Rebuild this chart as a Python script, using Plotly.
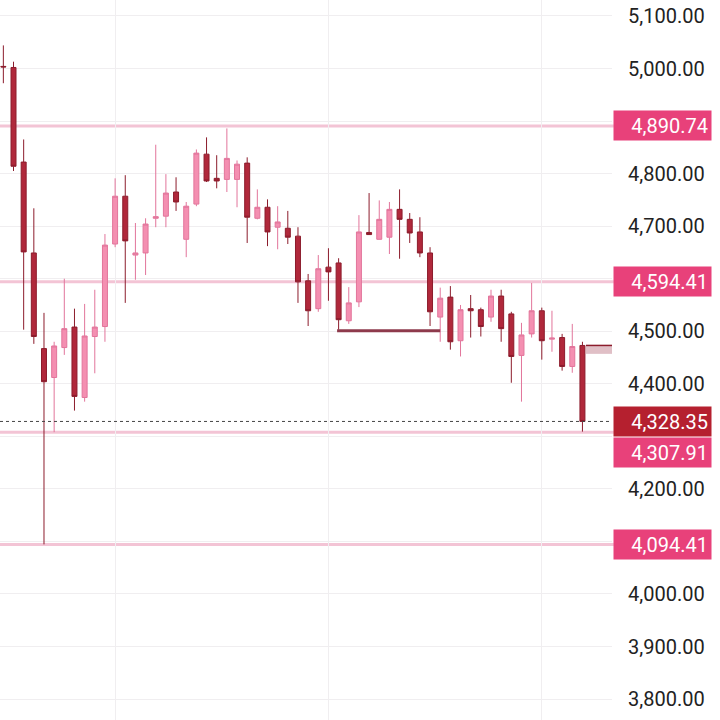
import plotly.graph_objects as go

# ---- data ----
idx = list(range(58))
opens = [5004, 5002, 4822, 4649, 4467, 4412, 4469, 4508, 4374, 4490,
         4509, 4666, 4757, 4645, 4649, 4715, 4719, 4765, 4675, 4742,
         4837, 4791, 4789, 4789, 4820, 4715, 4736, 4698, 4696, 4681,
         4596, 4543, 4622, 4630, 4520, 4556, 4688, 4675, 4679, 4732,
         4713, 4689, 4649, 4527, 4565, 4482, 4543, 4541, 4527, 4567,
         4533, 4454, 4495, 4539, 4485, 4488, 4433, 4473]
highs = [5044, 5013, 4865, 4734, 4535, 4480, 4600, 4543, 4552, 4579,
         4685, 4791, 4797, 4706, 4715, 4855, 4799, 4793, 4746, 4846,
         4869, 4835, 4886, 4825, 4831, 4770, 4751, 4738, 4729, 4698,
         4609, 4645, 4658, 4639, 4584, 4721, 4763, 4749, 4746, 4770,
         4725, 4717, 4660, 4583, 4586, 4550, 4569, 4545, 4579, 4579,
         4537, 4516, 4592, 4545, 4539, 4495, 4514, 4480]
lows = [4972, 4805, 4503, 4476, 4094.41, 4307.91, 4455, 4349, 4366, 4420,
        4480, 4660, 4554, 4598, 4607, 4698, 4698, 4729, 4641, 4738,
        4784, 4772, 4765, 4736, 4668, 4713, 4662, 4656, 4666, 4554,
        4510, 4537, 4558, 4503, 4514, 4546, 4684, 4675, 4647, 4638,
        4668, 4641, 4510, 4480, 4465, 4452, 4488, 4490, 4518, 4480,
        4402, 4366, 4488, 4446, 4461, 4425, 4421, 4309]
closes = [5003, 4814, 4651, 4490, 4404, 4472, 4505, 4376, 4491, 4508,
          4664, 4757, 4672, 4649, 4704, 4718, 4763, 4746, 4738, 4839,
          4786, 4786, 4829, 4818, 4717, 4736, 4689, 4708, 4679, 4594,
          4539, 4619, 4613, 4522, 4554, 4689, 4684, 4713, 4732, 4713,
          4687, 4649, 4537, 4563, 4480, 4541, 4539, 4509, 4567, 4505,
          4452, 4493, 4539, 4482, 4487, 4433, 4471, 4328.35]

levels = [4890.74, 4594.41, 4307.91, 4094.41]
level_label_shift = [0, 0, -20, 0]   # pixel nudge so labels don't collide
last_price = 4328.35
seg_level, seg_start, seg_end = 4501, 32.85, 43.0
pos_top, pos_bottom, pos_start = 4473, 4457, 57.35

tick_vals = list(range(3800, 5101, 100))
hidden_ticks = {4600, 4300, 4100}
tick_text = ["" if v in hidden_ticks else f"{v:,.2f}" for v in tick_vals]

# ---- colours ----
BULL_FILL, BULL_LINE = "#f48fb1", "#e2759b"
BEAR_FILL, BEAR_LINE = "#b0283b", "#8c1c2c"
LEVEL_LINE = "#f3c4d5"
LEVEL_LABEL = "#e8417a"
LAST_LABEL = "#b5202f"
GRID = "#f0eef0"

fig = go.Figure()
fig.add_trace(go.Candlestick(
    x=idx, open=opens, high=highs, low=lows, close=closes,
    increasing=dict(fillcolor=BULL_FILL, line=dict(color=BULL_LINE, width=1)),
    decreasing=dict(fillcolor=BEAR_FILL, line=dict(color=BEAR_LINE, width=1)),
    whiskerwidth=0, showlegend=False, hoverinfo="skip",
))

shapes = []
for lv in levels:
    shapes.append(dict(type="line", xref="x domain", yref="y", x0=0, x1=1.003,
                       y0=lv, y1=lv, line=dict(color=LEVEL_LINE, width=3), layer="below"))
shapes.append(dict(type="line", xref="x domain", yref="y", x0=0, x1=1,
                   y0=last_price, y1=last_price, line=dict(color="#444", width=1, dash="dot")))
shapes.append(dict(type="line", xref="x", yref="y", x0=seg_start, x1=seg_end,
                   y0=seg_level, y1=seg_level, line=dict(color="#8e3a4c", width=3)))
shapes.append(dict(type="rect", xref="x", yref="y", x0=pos_start, x1=59.95,
                   y0=pos_bottom, y1=pos_top, fillcolor="#e0bfc6",
                   line=dict(width=0), layer="below"))
shapes.append(dict(type="line", xref="x", yref="y", x0=pos_start, x1=59.95,
                   y0=pos_top, y1=pos_top, line=dict(color="#8c1c2c", width=1.5)))

annotations = []
def label(val, color, shift=0):
    annotations.append(dict(
        xref="paper", yref="y", x=613/720, y=val, xanchor="left", yanchor="middle",
        yshift=shift, text=f"{val:,.2f}", showarrow=False, bgcolor=color,
        width=91, height=23, borderpad=3, align="right",
        font=dict(family="Roboto", size=20, color="white")))
for lv, sh in zip(levels, level_label_shift):
    label(lv, LEVEL_LABEL, sh)
label(last_price, LAST_LABEL)

fig.update_layout(
    width=720, height=720, margin=dict(l=0, r=0, t=0, b=0),
    paper_bgcolor="white", plot_bgcolor="white",
    shapes=shapes, annotations=annotations,
    xaxis=dict(domain=[0, 612/720], range=[-0.33, 59.91], rangeslider=dict(visible=False),
               tickvals=[11, 32, 53], showticklabels=False, showgrid=True, gridcolor=GRID,
               zeroline=False, showline=False),
    yaxis=dict(side="right", range=[3760.2, 5130.4], tickvals=tick_vals, ticktext=tick_text,
               showgrid=True, gridcolor=GRID, zeroline=False, showline=False, ticks="",
               ticklabelstandoff=15, tickfont=dict(family="Roboto", size=20, color="#222")),
)
fig.write_html("out.html")
